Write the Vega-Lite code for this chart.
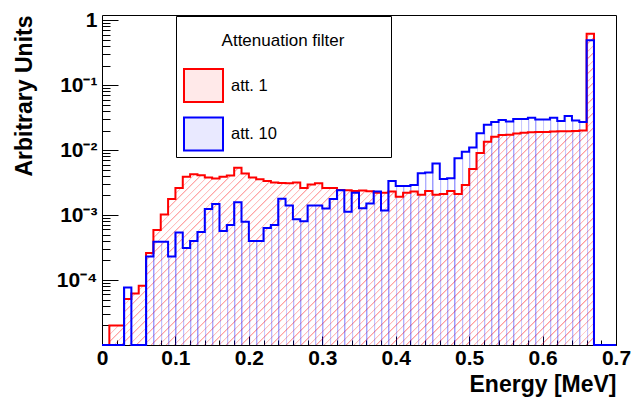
{
  "$schema": "https://vega.github.io/schema/vega-lite/v6.json",
  "width": 514,
  "height": 330,
  "autosize": {"type": "none"},
  "padding": {"left": 102, "top": 15, "right": 18, "bottom": 56},
  "background": "white",
  "config": {
    "font": "Liberation Sans",
    "view": {"stroke": "black", "strokeWidth": 1},
    "axis": {"grid": false, "domain": false, "tickColor": "black", "labelColor": "black", "titleColor": "black", "zindex": 1}
  },
  "data": {"values": [
    {"E":0.00,"v":1e-5,"s":"att. 1"},{"E":0.01,"v":2.0e-5,"s":"att. 1"},{"E":0.02,"v":2.0e-5,"s":"att. 1"},{"E":0.03,"v":5.1e-5,"s":"att. 1"},{"E":0.04,"v":6.2e-5,"s":"att. 1"},
    {"E":0.05,"v":8.2e-5,"s":"att. 1"},{"E":0.06,"v":2.6e-4,"s":"att. 1"},{"E":0.07,"v":5.9e-4,"s":"att. 1"},{"E":0.08,"v":1.02e-3,"s":"att. 1"},{"E":0.09,"v":1.77e-3,"s":"att. 1"},
    {"E":0.10,"v":2.6e-3,"s":"att. 1"},{"E":0.11,"v":3.9e-3,"s":"att. 1"},{"E":0.12,"v":4.25e-3,"s":"att. 1"},{"E":0.13,"v":4.1e-3,"s":"att. 1"},{"E":0.14,"v":3.8e-3,"s":"att. 1"},
    {"E":0.15,"v":3.65e-3,"s":"att. 1"},{"E":0.16,"v":3.9e-3,"s":"att. 1"},{"E":0.17,"v":4.05e-3,"s":"att. 1"},{"E":0.18,"v":5.35e-3,"s":"att. 1"},{"E":0.19,"v":4.35e-3,"s":"att. 1"},
    {"E":0.20,"v":3.8e-3,"s":"att. 1"},{"E":0.21,"v":3.55e-3,"s":"att. 1"},{"E":0.22,"v":3.35e-3,"s":"att. 1"},{"E":0.23,"v":3.16e-3,"s":"att. 1"},{"E":0.24,"v":3.12e-3,"s":"att. 1"},
    {"E":0.25,"v":3.1e-3,"s":"att. 1"},{"E":0.26,"v":3.16e-3,"s":"att. 1"},{"E":0.27,"v":2.6e-3,"s":"att. 1"},{"E":0.28,"v":2.95e-3,"s":"att. 1"},{"E":0.29,"v":3.1e-3,"s":"att. 1"},
    {"E":0.30,"v":2.6e-3,"s":"att. 1"},{"E":0.31,"v":2.6e-3,"s":"att. 1"},{"E":0.32,"v":2.43e-3,"s":"att. 1"},{"E":0.33,"v":2.4e-3,"s":"att. 1"},{"E":0.34,"v":2.35e-3,"s":"att. 1"},
    {"E":0.35,"v":2.38e-3,"s":"att. 1"},{"E":0.36,"v":2.33e-3,"s":"att. 1"},{"E":0.37,"v":2.2e-3,"s":"att. 1"},{"E":0.38,"v":2.2e-3,"s":"att. 1"},{"E":0.39,"v":2.3e-3,"s":"att. 1"},
    {"E":0.40,"v":1.92e-3,"s":"att. 1"},{"E":0.41,"v":2.2e-3,"s":"att. 1"},{"E":0.42,"v":2.3e-3,"s":"att. 1"},{"E":0.43,"v":2.05e-3,"s":"att. 1"},{"E":0.44,"v":2.35e-3,"s":"att. 1"},
    {"E":0.45,"v":2.05e-3,"s":"att. 1"},{"E":0.46,"v":2.1e-3,"s":"att. 1"},{"E":0.47,"v":2.35e-3,"s":"att. 1"},{"E":0.48,"v":2.1e-3,"s":"att. 1"},{"E":0.49,"v":2.9e-3,"s":"att. 1"},
    {"E":0.50,"v":5.1e-3,"s":"att. 1"},{"E":0.51,"v":9.0e-3,"s":"att. 1"},{"E":0.52,"v":1.34e-2,"s":"att. 1"},{"E":0.53,"v":1.6e-2,"s":"att. 1"},{"E":0.54,"v":1.7e-2,"s":"att. 1"},
    {"E":0.55,"v":1.72e-2,"s":"att. 1"},{"E":0.56,"v":1.8e-2,"s":"att. 1"},{"E":0.57,"v":1.85e-2,"s":"att. 1"},{"E":0.58,"v":1.88e-2,"s":"att. 1"},{"E":0.59,"v":1.9e-2,"s":"att. 1"},
    {"E":0.60,"v":1.9e-2,"s":"att. 1"},{"E":0.61,"v":1.93e-2,"s":"att. 1"},{"E":0.62,"v":1.95e-2,"s":"att. 1"},{"E":0.63,"v":1.95e-2,"s":"att. 1"},{"E":0.64,"v":1.96e-2,"s":"att. 1"},
    {"E":0.65,"v":2.0e-2,"s":"att. 1"},{"E":0.66,"v":0.62,"s":"att. 1"},{"E":0.67,"v":1e-5,"s":"att. 1"},{"E":0.68,"v":1e-5,"s":"att. 1"},{"E":0.69,"v":1e-5,"s":"att. 1"},
    {"E":0.70,"v":1e-5,"s":"att. 1"},
    {"E":0.00,"v":1e-5,"s":"att. 10"},{"E":0.01,"v":1e-5,"s":"att. 10"},{"E":0.02,"v":1e-5,"s":"att. 10"},{"E":0.03,"v":7.7e-5,"s":"att. 10"},{"E":0.04,"v":1e-5,"s":"att. 10"},
    {"E":0.05,"v":1e-5,"s":"att. 10"},{"E":0.06,"v":2.3e-4,"s":"att. 10"},{"E":0.07,"v":3.9e-4,"s":"att. 10"},{"E":0.08,"v":3.9e-4,"s":"att. 10"},{"E":0.09,"v":2.3e-4,"s":"att. 10"},
    {"E":0.10,"v":5.4e-4,"s":"att. 10"},{"E":0.11,"v":3.1e-4,"s":"att. 10"},{"E":0.12,"v":4.0e-4,"s":"att. 10"},{"E":0.13,"v":5.5e-4,"s":"att. 10"},{"E":0.14,"v":1.24e-3,"s":"att. 10"},
    {"E":0.15,"v":1.48e-3,"s":"att. 10"},{"E":0.16,"v":5.7e-4,"s":"att. 10"},{"E":0.17,"v":7.0e-4,"s":"att. 10"},{"E":0.18,"v":1.57e-3,"s":"att. 10"},{"E":0.19,"v":7.9e-4,"s":"att. 10"},
    {"E":0.20,"v":4.0e-4,"s":"att. 10"},{"E":0.21,"v":4.0e-4,"s":"att. 10"},{"E":0.22,"v":6.3e-4,"s":"att. 10"},{"E":0.23,"v":7.0e-4,"s":"att. 10"},{"E":0.24,"v":1.78e-3,"s":"att. 10"},
    {"E":0.25,"v":1.4e-3,"s":"att. 10"},{"E":0.26,"v":8.6e-4,"s":"att. 10"},{"E":0.27,"v":8.0e-4,"s":"att. 10"},{"E":0.28,"v":1.4e-3,"s":"att. 10"},{"E":0.29,"v":1.4e-3,"s":"att. 10"},
    {"E":0.30,"v":1.26e-3,"s":"att. 10"},{"E":0.31,"v":1.77e-3,"s":"att. 10"},{"E":0.32,"v":2.4e-3,"s":"att. 10"},{"E":0.33,"v":1.12e-3,"s":"att. 10"},{"E":0.34,"v":2.2e-3,"s":"att. 10"},
    {"E":0.35,"v":1.27e-3,"s":"att. 10"},{"E":0.36,"v":1.5e-3,"s":"att. 10"},{"E":0.37,"v":2.3e-3,"s":"att. 10"},{"E":0.38,"v":1.18e-3,"s":"att. 10"},{"E":0.39,"v":3.35e-3,"s":"att. 10"},
    {"E":0.40,"v":2.8e-3,"s":"att. 10"},{"E":0.41,"v":2.8e-3,"s":"att. 10"},{"E":0.42,"v":2.9e-3,"s":"att. 10"},{"E":0.43,"v":4.4e-3,"s":"att. 10"},{"E":0.44,"v":4.5e-3,"s":"att. 10"},
    {"E":0.45,"v":6.2e-3,"s":"att. 10"},{"E":0.46,"v":3.6e-3,"s":"att. 10"},{"E":0.47,"v":3.7e-3,"s":"att. 10"},{"E":0.48,"v":7.5e-3,"s":"att. 10"},{"E":0.49,"v":9.4e-3,"s":"att. 10"},
    {"E":0.50,"v":1.1e-2,"s":"att. 10"},{"E":0.51,"v":1.82e-2,"s":"att. 10"},{"E":0.52,"v":2.45e-2,"s":"att. 10"},{"E":0.53,"v":2.7e-2,"s":"att. 10"},{"E":0.54,"v":2.9e-2,"s":"att. 10"},
    {"E":0.55,"v":2.75e-2,"s":"att. 10"},{"E":0.56,"v":3.0e-2,"s":"att. 10"},{"E":0.57,"v":3.0e-2,"s":"att. 10"},{"E":0.58,"v":3.15e-2,"s":"att. 10"},{"E":0.59,"v":2.95e-2,"s":"att. 10"},
    {"E":0.60,"v":2.95e-2,"s":"att. 10"},{"E":0.61,"v":3.15e-2,"s":"att. 10"},{"E":0.62,"v":2.8e-2,"s":"att. 10"},{"E":0.63,"v":3.35e-2,"s":"att. 10"},{"E":0.64,"v":2.85e-2,"s":"att. 10"},
    {"E":0.65,"v":2.7e-2,"s":"att. 10"},{"E":0.66,"v":0.49,"s":"att. 10"},{"E":0.67,"v":1e-5,"s":"att. 10"},{"E":0.68,"v":1e-5,"s":"att. 10"},{"E":0.69,"v":1e-5,"s":"att. 10"},
    {"E":0.70,"v":1e-5,"s":"att. 10"}
  ]},
  "resolve": {"axis": {"x": "independent", "y": "independent"}},
  "layer": [
    {
      "mark": {"type": "area", "interpolate": "step-after"},
      "encoding": {
        "x": {"field": "E", "type": "quantitative",
          "scale": {"domain": [0, 0.7], "nice": false, "zero": false},
          "axis": {"orient": "bottom", "values": [0, 0.1, 0.2, 0.3, 0.4, 0.5, 0.6, 0.7], "format": ".1~f",
            "tickSize": -9, "labelPadding": 11, "labelFont": "Liberation Sans", "labelFontSize": 21, "labelFontWeight": "bold",
            "labelFlush": false, "labelOverlap": false,
            "title": "Energy [MeV]", "titleFont": "Liberation Sans", "titleFontSize": 23, "titleFontWeight": "bold",
            "titleAnchor": "end", "titlePadding": 5}},
        "y": {"field": "v", "type": "quantitative", "stack": null,
          "scale": {"type": "log", "domain": [1e-5, 1.2], "nice": false},
          "axis": {"orient": "left", "values": [0.0001, 0.001, 0.01, 0.1, 1],
            "labelExpr": "datum.value >= 0.5 ? '1' : datum.value >= 0.05 ? '10⁻¹' : datum.value >= 0.005 ? '10⁻²' : datum.value >= 0.0005 ? '10⁻³' : '10⁻⁴'",
            "tickSize": -16, "labelPadding": 21, "labelFont": "Liberation Sans", "labelFontSize": 21, "labelFontWeight": "bold",
            "labelFlush": false, "labelOverlap": false,
            "title": "Arbitrary Units", "titleFont": "Liberation Sans", "titleFontSize": 23, "titleFontWeight": "bold",
            "titleAnchor": "end", "titlePadding": 20}},
        "fill": {"field": "s", "type": "nominal",
          "scale": {"domain": ["att. 1", "att. 10"], "range": ["rgba(255,0,0,0.085)", "rgba(0,0,255,0.085)"]},
          "condition": [
            {"test": "datum.s === 'att. 1'", "value": {"gradient": "linear", "x1": 0, "y1": 0, "x2": 1.1747, "y2": 0.7116, "stops": [
{"offset":0,"color":"#f000"},{"offset":0,"color":"#f006"},{"offset":0.0024,"color":"#f000"},
{"offset":0.0091,"color":"#f000"},{"offset":0.0091,"color":"#f006"},{"offset":0.0115,"color":"#f000"},
{"offset":0.0182,"color":"#f000"},{"offset":0.0182,"color":"#f006"},{"offset":0.0206,"color":"#f000"},
{"offset":0.0273,"color":"#f000"},{"offset":0.0273,"color":"#f006"},{"offset":0.0297,"color":"#f000"},
{"offset":0.0364,"color":"#f000"},{"offset":0.0364,"color":"#f006"},{"offset":0.0388,"color":"#f000"},
{"offset":0.0455,"color":"#f000"},{"offset":0.0455,"color":"#f006"},{"offset":0.0479,"color":"#f000"},
{"offset":0.0545,"color":"#f000"},{"offset":0.0545,"color":"#f006"},{"offset":0.0569,"color":"#f000"},
{"offset":0.0636,"color":"#f000"},{"offset":0.0636,"color":"#f006"},{"offset":0.0660,"color":"#f000"},
{"offset":0.0727,"color":"#f000"},{"offset":0.0727,"color":"#f006"},{"offset":0.0751,"color":"#f000"},
{"offset":0.0818,"color":"#f000"},{"offset":0.0818,"color":"#f006"},{"offset":0.0842,"color":"#f000"},
{"offset":0.0909,"color":"#f000"},{"offset":0.0909,"color":"#f006"},{"offset":0.0933,"color":"#f000"},
{"offset":0.1000,"color":"#f000"},{"offset":0.1000,"color":"#f006"},{"offset":0.1024,"color":"#f000"},
{"offset":0.1091,"color":"#f000"},{"offset":0.1091,"color":"#f006"},{"offset":0.1115,"color":"#f000"},
{"offset":0.1182,"color":"#f000"},{"offset":0.1182,"color":"#f006"},{"offset":0.1206,"color":"#f000"},
{"offset":0.1273,"color":"#f000"},{"offset":0.1273,"color":"#f006"},{"offset":0.1297,"color":"#f000"},
{"offset":0.1364,"color":"#f000"},{"offset":0.1364,"color":"#f006"},{"offset":0.1388,"color":"#f000"},
{"offset":0.1455,"color":"#f000"},{"offset":0.1455,"color":"#f006"},{"offset":0.1479,"color":"#f000"},
{"offset":0.1545,"color":"#f000"},{"offset":0.1545,"color":"#f006"},{"offset":0.1569,"color":"#f000"},
{"offset":0.1636,"color":"#f000"},{"offset":0.1636,"color":"#f006"},{"offset":0.1660,"color":"#f000"},
{"offset":0.1727,"color":"#f000"},{"offset":0.1727,"color":"#f006"},{"offset":0.1751,"color":"#f000"},
{"offset":0.1818,"color":"#f000"},{"offset":0.1818,"color":"#f006"},{"offset":0.1842,"color":"#f000"},
{"offset":0.1909,"color":"#f000"},{"offset":0.1909,"color":"#f006"},{"offset":0.1933,"color":"#f000"},
{"offset":0.2000,"color":"#f000"},{"offset":0.2000,"color":"#f006"},{"offset":0.2024,"color":"#f000"},
{"offset":0.2091,"color":"#f000"},{"offset":0.2091,"color":"#f006"},{"offset":0.2115,"color":"#f000"},
{"offset":0.2182,"color":"#f000"},{"offset":0.2182,"color":"#f006"},{"offset":0.2206,"color":"#f000"},
{"offset":0.2273,"color":"#f000"},{"offset":0.2273,"color":"#f006"},{"offset":0.2297,"color":"#f000"},
{"offset":0.2364,"color":"#f000"},{"offset":0.2364,"color":"#f006"},{"offset":0.2388,"color":"#f000"},
{"offset":0.2455,"color":"#f000"},{"offset":0.2455,"color":"#f006"},{"offset":0.2479,"color":"#f000"},
{"offset":0.2545,"color":"#f000"},{"offset":0.2545,"color":"#f006"},{"offset":0.2569,"color":"#f000"},
{"offset":0.2636,"color":"#f000"},{"offset":0.2636,"color":"#f006"},{"offset":0.2660,"color":"#f000"},
{"offset":0.2727,"color":"#f000"},{"offset":0.2727,"color":"#f006"},{"offset":0.2751,"color":"#f000"},
{"offset":0.2818,"color":"#f000"},{"offset":0.2818,"color":"#f006"},{"offset":0.2842,"color":"#f000"},
{"offset":0.2909,"color":"#f000"},{"offset":0.2909,"color":"#f006"},{"offset":0.2933,"color":"#f000"},
{"offset":0.3000,"color":"#f000"},{"offset":0.3000,"color":"#f006"},{"offset":0.3024,"color":"#f000"},
{"offset":0.3091,"color":"#f000"},{"offset":0.3091,"color":"#f006"},{"offset":0.3115,"color":"#f000"},
{"offset":0.3182,"color":"#f000"},{"offset":0.3182,"color":"#f006"},{"offset":0.3206,"color":"#f000"},
{"offset":0.3273,"color":"#f000"},{"offset":0.3273,"color":"#f006"},{"offset":0.3297,"color":"#f000"},
{"offset":0.3364,"color":"#f000"},{"offset":0.3364,"color":"#f006"},{"offset":0.3388,"color":"#f000"},
{"offset":0.3455,"color":"#f000"},{"offset":0.3455,"color":"#f006"},{"offset":0.3479,"color":"#f000"},
{"offset":0.3545,"color":"#f000"},{"offset":0.3545,"color":"#f006"},{"offset":0.3569,"color":"#f000"},
{"offset":0.3636,"color":"#f000"},{"offset":0.3636,"color":"#f006"},{"offset":0.3660,"color":"#f000"},
{"offset":0.3727,"color":"#f000"},{"offset":0.3727,"color":"#f006"},{"offset":0.3751,"color":"#f000"},
{"offset":0.3818,"color":"#f000"},{"offset":0.3818,"color":"#f006"},{"offset":0.3842,"color":"#f000"},
{"offset":0.3909,"color":"#f000"},{"offset":0.3909,"color":"#f006"},{"offset":0.3933,"color":"#f000"},
{"offset":0.4000,"color":"#f000"},{"offset":0.4000,"color":"#f006"},{"offset":0.4024,"color":"#f000"},
{"offset":0.4091,"color":"#f000"},{"offset":0.4091,"color":"#f006"},{"offset":0.4115,"color":"#f000"},
{"offset":0.4182,"color":"#f000"},{"offset":0.4182,"color":"#f006"},{"offset":0.4206,"color":"#f000"},
{"offset":0.4273,"color":"#f000"},{"offset":0.4273,"color":"#f006"},{"offset":0.4297,"color":"#f000"},
{"offset":0.4364,"color":"#f000"},{"offset":0.4364,"color":"#f006"},{"offset":0.4388,"color":"#f000"},
{"offset":0.4455,"color":"#f000"},{"offset":0.4455,"color":"#f006"},{"offset":0.4479,"color":"#f000"},
{"offset":0.4545,"color":"#f000"},{"offset":0.4545,"color":"#f006"},{"offset":0.4569,"color":"#f000"},
{"offset":0.4636,"color":"#f000"},{"offset":0.4636,"color":"#f006"},{"offset":0.4660,"color":"#f000"},
{"offset":0.4727,"color":"#f000"},{"offset":0.4727,"color":"#f006"},{"offset":0.4751,"color":"#f000"},
{"offset":0.4818,"color":"#f000"},{"offset":0.4818,"color":"#f006"},{"offset":0.4842,"color":"#f000"},
{"offset":0.4909,"color":"#f000"},{"offset":0.4909,"color":"#f006"},{"offset":0.4933,"color":"#f000"},
{"offset":0.5000,"color":"#f000"},{"offset":0.5000,"color":"#f006"},{"offset":0.5024,"color":"#f000"},
{"offset":0.5091,"color":"#f000"},{"offset":0.5091,"color":"#f006"},{"offset":0.5115,"color":"#f000"},
{"offset":0.5182,"color":"#f000"},{"offset":0.5182,"color":"#f006"},{"offset":0.5206,"color":"#f000"},
{"offset":0.5273,"color":"#f000"},{"offset":0.5273,"color":"#f006"},{"offset":0.5297,"color":"#f000"},
{"offset":0.5364,"color":"#f000"},{"offset":0.5364,"color":"#f006"},{"offset":0.5388,"color":"#f000"},
{"offset":0.5455,"color":"#f000"},{"offset":0.5455,"color":"#f006"},{"offset":0.5479,"color":"#f000"},
{"offset":0.5545,"color":"#f000"},{"offset":0.5545,"color":"#f006"},{"offset":0.5569,"color":"#f000"},
{"offset":0.5636,"color":"#f000"},{"offset":0.5636,"color":"#f006"},{"offset":0.5660,"color":"#f000"},
{"offset":0.5727,"color":"#f000"},{"offset":0.5727,"color":"#f006"},{"offset":0.5751,"color":"#f000"},
{"offset":0.5818,"color":"#f000"},{"offset":0.5818,"color":"#f006"},{"offset":0.5842,"color":"#f000"},
{"offset":0.5909,"color":"#f000"},{"offset":0.5909,"color":"#f006"},{"offset":0.5933,"color":"#f000"},
{"offset":0.6000,"color":"#f000"},{"offset":0.6000,"color":"#f006"},{"offset":0.6024,"color":"#f000"},
{"offset":0.6091,"color":"#f000"},{"offset":0.6091,"color":"#f006"},{"offset":0.6115,"color":"#f000"},
{"offset":0.6182,"color":"#f000"},{"offset":0.6182,"color":"#f006"},{"offset":0.6206,"color":"#f000"},
{"offset":0.6273,"color":"#f000"},{"offset":0.6273,"color":"#f006"},{"offset":0.6297,"color":"#f000"},
{"offset":0.6364,"color":"#f000"},{"offset":0.6364,"color":"#f006"},{"offset":0.6388,"color":"#f000"},
{"offset":0.6455,"color":"#f000"},{"offset":0.6455,"color":"#f006"},{"offset":0.6479,"color":"#f000"},
{"offset":0.6545,"color":"#f000"},{"offset":0.6545,"color":"#f006"},{"offset":0.6569,"color":"#f000"},
{"offset":0.6636,"color":"#f000"},{"offset":0.6636,"color":"#f006"},{"offset":0.6660,"color":"#f000"},
{"offset":0.6727,"color":"#f000"},{"offset":0.6727,"color":"#f006"},{"offset":0.6751,"color":"#f000"},
{"offset":0.6818,"color":"#f000"},{"offset":0.6818,"color":"#f006"},{"offset":0.6842,"color":"#f000"},
{"offset":0.6909,"color":"#f000"},{"offset":0.6909,"color":"#f006"},{"offset":0.6933,"color":"#f000"},
{"offset":0.7000,"color":"#f000"},{"offset":0.7000,"color":"#f006"},{"offset":0.7024,"color":"#f000"},
{"offset":0.7091,"color":"#f000"},{"offset":0.7091,"color":"#f006"},{"offset":0.7115,"color":"#f000"},
{"offset":0.7182,"color":"#f000"},{"offset":0.7182,"color":"#f006"},{"offset":0.7206,"color":"#f000"},
{"offset":0.7273,"color":"#f000"},{"offset":0.7273,"color":"#f006"},{"offset":0.7297,"color":"#f000"},
{"offset":0.7364,"color":"#f000"},{"offset":0.7364,"color":"#f006"},{"offset":0.7388,"color":"#f000"},
{"offset":0.7455,"color":"#f000"},{"offset":0.7455,"color":"#f006"},{"offset":0.7479,"color":"#f000"},
{"offset":0.7545,"color":"#f000"},{"offset":0.7545,"color":"#f006"},{"offset":0.7569,"color":"#f000"},
{"offset":0.7636,"color":"#f000"},{"offset":0.7636,"color":"#f006"},{"offset":0.7660,"color":"#f000"},
{"offset":0.7727,"color":"#f000"},{"offset":0.7727,"color":"#f006"},{"offset":0.7751,"color":"#f000"},
{"offset":0.7818,"color":"#f000"},{"offset":0.7818,"color":"#f006"},{"offset":0.7842,"color":"#f000"},
{"offset":0.7909,"color":"#f000"},{"offset":0.7909,"color":"#f006"},{"offset":0.7933,"color":"#f000"},
{"offset":0.8000,"color":"#f000"},{"offset":0.8000,"color":"#f006"},{"offset":0.8024,"color":"#f000"},
{"offset":0.8091,"color":"#f000"},{"offset":0.8091,"color":"#f006"},{"offset":0.8115,"color":"#f000"},
{"offset":0.8182,"color":"#f000"},{"offset":0.8182,"color":"#f006"},{"offset":0.8206,"color":"#f000"},
{"offset":0.8273,"color":"#f000"},{"offset":0.8273,"color":"#f006"},{"offset":0.8297,"color":"#f000"},
{"offset":0.8364,"color":"#f000"},{"offset":0.8364,"color":"#f006"},{"offset":0.8388,"color":"#f000"},
{"offset":0.8455,"color":"#f000"},{"offset":0.8455,"color":"#f006"},{"offset":0.8479,"color":"#f000"},
{"offset":0.8545,"color":"#f000"},{"offset":0.8545,"color":"#f006"},{"offset":0.8569,"color":"#f000"},
{"offset":0.8636,"color":"#f000"},{"offset":0.8636,"color":"#f006"},{"offset":0.8660,"color":"#f000"},
{"offset":0.8727,"color":"#f000"},{"offset":0.8727,"color":"#f006"},{"offset":0.8751,"color":"#f000"},
{"offset":0.8818,"color":"#f000"},{"offset":0.8818,"color":"#f006"},{"offset":0.8842,"color":"#f000"},
{"offset":0.8909,"color":"#f000"},{"offset":0.8909,"color":"#f006"},{"offset":0.8933,"color":"#f000"},
{"offset":0.9000,"color":"#f000"},{"offset":0.9000,"color":"#f006"},{"offset":0.9024,"color":"#f000"},
{"offset":0.9091,"color":"#f000"},{"offset":0.9091,"color":"#f006"},{"offset":0.9115,"color":"#f000"},
{"offset":0.9182,"color":"#f000"},{"offset":0.9182,"color":"#f006"},{"offset":0.9206,"color":"#f000"},
{"offset":0.9273,"color":"#f000"},{"offset":0.9273,"color":"#f006"},{"offset":0.9297,"color":"#f000"},
{"offset":0.9364,"color":"#f000"},{"offset":0.9364,"color":"#f006"},{"offset":0.9388,"color":"#f000"},
{"offset":0.9455,"color":"#f000"},{"offset":0.9455,"color":"#f006"},{"offset":0.9479,"color":"#f000"},
{"offset":0.9545,"color":"#f000"},{"offset":0.9545,"color":"#f006"},{"offset":0.9569,"color":"#f000"},
{"offset":0.9636,"color":"#f000"},{"offset":0.9636,"color":"#f006"},{"offset":0.9660,"color":"#f000"},
{"offset":0.9727,"color":"#f000"},{"offset":0.9727,"color":"#f006"},{"offset":0.9751,"color":"#f000"},
{"offset":0.9818,"color":"#f000"},{"offset":0.9818,"color":"#f006"},{"offset":0.9842,"color":"#f000"},
{"offset":0.9909,"color":"#f000"},{"offset":0.9909,"color":"#f006"},{"offset":0.9933,"color":"#f000"}
            ]}},
            {"test": "datum.s === 'att. 10'", "value": {"gradient": "linear", "x1": 0, "y1": 0, "x2": 1, "y2": 0, "stops": [
{"offset":0,"color":"#00f0"},{"offset":0,"color":"#00f6"},{"offset":0.0039,"color":"#00f0"},
{"offset":0.0143,"color":"#00f0"},{"offset":0.0143,"color":"#00f6"},{"offset":0.0182,"color":"#00f0"},
{"offset":0.0286,"color":"#00f0"},{"offset":0.0286,"color":"#00f6"},{"offset":0.0325,"color":"#00f0"},
{"offset":0.0429,"color":"#00f0"},{"offset":0.0429,"color":"#00f6"},{"offset":0.0468,"color":"#00f0"},
{"offset":0.0571,"color":"#00f0"},{"offset":0.0571,"color":"#00f6"},{"offset":0.0610,"color":"#00f0"},
{"offset":0.0714,"color":"#00f0"},{"offset":0.0714,"color":"#00f6"},{"offset":0.0753,"color":"#00f0"},
{"offset":0.0857,"color":"#00f0"},{"offset":0.0857,"color":"#00f6"},{"offset":0.0896,"color":"#00f0"},
{"offset":0.1000,"color":"#00f0"},{"offset":0.1000,"color":"#00f6"},{"offset":0.1039,"color":"#00f0"},
{"offset":0.1143,"color":"#00f0"},{"offset":0.1143,"color":"#00f6"},{"offset":0.1182,"color":"#00f0"},
{"offset":0.1286,"color":"#00f0"},{"offset":0.1286,"color":"#00f6"},{"offset":0.1325,"color":"#00f0"},
{"offset":0.1429,"color":"#00f0"},{"offset":0.1429,"color":"#00f6"},{"offset":0.1468,"color":"#00f0"},
{"offset":0.1571,"color":"#00f0"},{"offset":0.1571,"color":"#00f6"},{"offset":0.1610,"color":"#00f0"},
{"offset":0.1714,"color":"#00f0"},{"offset":0.1714,"color":"#00f6"},{"offset":0.1753,"color":"#00f0"},
{"offset":0.1857,"color":"#00f0"},{"offset":0.1857,"color":"#00f6"},{"offset":0.1896,"color":"#00f0"},
{"offset":0.2000,"color":"#00f0"},{"offset":0.2000,"color":"#00f6"},{"offset":0.2039,"color":"#00f0"},
{"offset":0.2143,"color":"#00f0"},{"offset":0.2143,"color":"#00f6"},{"offset":0.2182,"color":"#00f0"},
{"offset":0.2286,"color":"#00f0"},{"offset":0.2286,"color":"#00f6"},{"offset":0.2325,"color":"#00f0"},
{"offset":0.2429,"color":"#00f0"},{"offset":0.2429,"color":"#00f6"},{"offset":0.2468,"color":"#00f0"},
{"offset":0.2571,"color":"#00f0"},{"offset":0.2571,"color":"#00f6"},{"offset":0.2610,"color":"#00f0"},
{"offset":0.2714,"color":"#00f0"},{"offset":0.2714,"color":"#00f6"},{"offset":0.2753,"color":"#00f0"},
{"offset":0.2857,"color":"#00f0"},{"offset":0.2857,"color":"#00f6"},{"offset":0.2896,"color":"#00f0"},
{"offset":0.3000,"color":"#00f0"},{"offset":0.3000,"color":"#00f6"},{"offset":0.3039,"color":"#00f0"},
{"offset":0.3143,"color":"#00f0"},{"offset":0.3143,"color":"#00f6"},{"offset":0.3182,"color":"#00f0"},
{"offset":0.3286,"color":"#00f0"},{"offset":0.3286,"color":"#00f6"},{"offset":0.3325,"color":"#00f0"},
{"offset":0.3429,"color":"#00f0"},{"offset":0.3429,"color":"#00f6"},{"offset":0.3468,"color":"#00f0"},
{"offset":0.3571,"color":"#00f0"},{"offset":0.3571,"color":"#00f6"},{"offset":0.3610,"color":"#00f0"},
{"offset":0.3714,"color":"#00f0"},{"offset":0.3714,"color":"#00f6"},{"offset":0.3753,"color":"#00f0"},
{"offset":0.3857,"color":"#00f0"},{"offset":0.3857,"color":"#00f6"},{"offset":0.3896,"color":"#00f0"},
{"offset":0.4000,"color":"#00f0"},{"offset":0.4000,"color":"#00f6"},{"offset":0.4039,"color":"#00f0"},
{"offset":0.4143,"color":"#00f0"},{"offset":0.4143,"color":"#00f6"},{"offset":0.4182,"color":"#00f0"},
{"offset":0.4286,"color":"#00f0"},{"offset":0.4286,"color":"#00f6"},{"offset":0.4325,"color":"#00f0"},
{"offset":0.4429,"color":"#00f0"},{"offset":0.4429,"color":"#00f6"},{"offset":0.4468,"color":"#00f0"},
{"offset":0.4571,"color":"#00f0"},{"offset":0.4571,"color":"#00f6"},{"offset":0.4610,"color":"#00f0"},
{"offset":0.4714,"color":"#00f0"},{"offset":0.4714,"color":"#00f6"},{"offset":0.4753,"color":"#00f0"},
{"offset":0.4857,"color":"#00f0"},{"offset":0.4857,"color":"#00f6"},{"offset":0.4896,"color":"#00f0"},
{"offset":0.5000,"color":"#00f0"},{"offset":0.5000,"color":"#00f6"},{"offset":0.5039,"color":"#00f0"},
{"offset":0.5143,"color":"#00f0"},{"offset":0.5143,"color":"#00f6"},{"offset":0.5182,"color":"#00f0"},
{"offset":0.5286,"color":"#00f0"},{"offset":0.5286,"color":"#00f6"},{"offset":0.5325,"color":"#00f0"},
{"offset":0.5429,"color":"#00f0"},{"offset":0.5429,"color":"#00f6"},{"offset":0.5468,"color":"#00f0"},
{"offset":0.5571,"color":"#00f0"},{"offset":0.5571,"color":"#00f6"},{"offset":0.5610,"color":"#00f0"},
{"offset":0.5714,"color":"#00f0"},{"offset":0.5714,"color":"#00f6"},{"offset":0.5753,"color":"#00f0"},
{"offset":0.5857,"color":"#00f0"},{"offset":0.5857,"color":"#00f6"},{"offset":0.5896,"color":"#00f0"},
{"offset":0.6000,"color":"#00f0"},{"offset":0.6000,"color":"#00f6"},{"offset":0.6039,"color":"#00f0"},
{"offset":0.6143,"color":"#00f0"},{"offset":0.6143,"color":"#00f6"},{"offset":0.6182,"color":"#00f0"},
{"offset":0.6286,"color":"#00f0"},{"offset":0.6286,"color":"#00f6"},{"offset":0.6325,"color":"#00f0"},
{"offset":0.6429,"color":"#00f0"},{"offset":0.6429,"color":"#00f6"},{"offset":0.6468,"color":"#00f0"},
{"offset":0.6571,"color":"#00f0"},{"offset":0.6571,"color":"#00f6"},{"offset":0.6610,"color":"#00f0"},
{"offset":0.6714,"color":"#00f0"},{"offset":0.6714,"color":"#00f6"},{"offset":0.6753,"color":"#00f0"},
{"offset":0.6857,"color":"#00f0"},{"offset":0.6857,"color":"#00f6"},{"offset":0.6896,"color":"#00f0"},
{"offset":0.7000,"color":"#00f0"},{"offset":0.7000,"color":"#00f6"},{"offset":0.7039,"color":"#00f0"},
{"offset":0.7143,"color":"#00f0"},{"offset":0.7143,"color":"#00f6"},{"offset":0.7182,"color":"#00f0"},
{"offset":0.7286,"color":"#00f0"},{"offset":0.7286,"color":"#00f6"},{"offset":0.7325,"color":"#00f0"},
{"offset":0.7429,"color":"#00f0"},{"offset":0.7429,"color":"#00f6"},{"offset":0.7468,"color":"#00f0"},
{"offset":0.7571,"color":"#00f0"},{"offset":0.7571,"color":"#00f6"},{"offset":0.7610,"color":"#00f0"},
{"offset":0.7714,"color":"#00f0"},{"offset":0.7714,"color":"#00f6"},{"offset":0.7753,"color":"#00f0"},
{"offset":0.7857,"color":"#00f0"},{"offset":0.7857,"color":"#00f6"},{"offset":0.7896,"color":"#00f0"},
{"offset":0.8000,"color":"#00f0"},{"offset":0.8000,"color":"#00f6"},{"offset":0.8039,"color":"#00f0"},
{"offset":0.8143,"color":"#00f0"},{"offset":0.8143,"color":"#00f6"},{"offset":0.8182,"color":"#00f0"},
{"offset":0.8286,"color":"#00f0"},{"offset":0.8286,"color":"#00f6"},{"offset":0.8325,"color":"#00f0"},
{"offset":0.8429,"color":"#00f0"},{"offset":0.8429,"color":"#00f6"},{"offset":0.8468,"color":"#00f0"},
{"offset":0.8571,"color":"#00f0"},{"offset":0.8571,"color":"#00f6"},{"offset":0.8610,"color":"#00f0"},
{"offset":0.8714,"color":"#00f0"},{"offset":0.8714,"color":"#00f6"},{"offset":0.8753,"color":"#00f0"},
{"offset":0.8857,"color":"#00f0"},{"offset":0.8857,"color":"#00f6"},{"offset":0.8896,"color":"#00f0"},
{"offset":0.9000,"color":"#00f0"},{"offset":0.9000,"color":"#00f6"},{"offset":0.9039,"color":"#00f0"},
{"offset":0.9143,"color":"#00f0"},{"offset":0.9143,"color":"#00f6"},{"offset":0.9182,"color":"#00f0"},
{"offset":0.9286,"color":"#00f0"},{"offset":0.9286,"color":"#00f6"},{"offset":0.9325,"color":"#00f0"},
{"offset":0.9429,"color":"#00f0"},{"offset":0.9429,"color":"#00f6"},{"offset":0.9468,"color":"#00f0"},
{"offset":0.9571,"color":"#00f0"},{"offset":0.9571,"color":"#00f6"},{"offset":0.9610,"color":"#00f0"},
{"offset":0.9714,"color":"#00f0"},{"offset":0.9714,"color":"#00f6"},{"offset":0.9753,"color":"#00f0"},
{"offset":0.9857,"color":"#00f0"},{"offset":0.9857,"color":"#00f6"},{"offset":0.9896,"color":"#00f0"}
            ]}}
          ],
          "legend": {"orient": "none", "legendX": 74, "legendY": 1,
            "title": "Attenuation filter",
            "titleFont": "Liberation Sans", "titleFontSize": 17, "titleFontWeight": "normal", "titleColor": "black",
            "titleAnchor": "middle", "titleAlign": "center", "titleBaseline": "line-top", "titleLineHeight": 47, "titlePadding": 33,
            "labelFont": "Liberation Sans", "labelFontSize": 16.5, "labelColor": "black", "labelOffset": 10,
            "symbolType": "M-1.182,-1L1.182,-1L1.182,1L-1.182,1ZM10.98,0", "symbolSize": 1089, "symbolStrokeWidth": 2, "symbolOffset": 8,
            "rowPadding": 7.5, "padding": 2, "strokeColor": "black", "fillColor": "white", "cornerRadius": 0}}
      }
    },
    {
      "mark": {"type": "line", "interpolate": "step-after", "strokeWidth": 2},
      "encoding": {
        "x": {"field": "E", "type": "quantitative",
          "axis": {"orient": "bottom", "values": [0.02,0.04,0.06,0.08,0.12,0.14,0.16,0.18,0.22,0.24,0.26,0.28,0.32,0.34,0.36,0.38,0.42,0.44,0.46,0.48,0.52,0.54,0.56,0.58,0.62,0.64,0.66,0.68],
            "tickSize": -5, "labels": false, "title": null}},
        "y": {"field": "v", "type": "quantitative",
          "axis": {"orient": "left", "values": [2e-5,3e-5,4e-5,5e-5,6e-5,7e-5,8e-5,9e-5,2e-4,3e-4,4e-4,5e-4,6e-4,7e-4,8e-4,9e-4,2e-3,3e-3,4e-3,5e-3,6e-3,7e-3,8e-3,9e-3,2e-2,3e-2,4e-2,5e-2,6e-2,7e-2,8e-2,9e-2,0.2,0.3,0.4,0.5,0.6,0.7,0.8,0.9],
            "tickSize": -8, "labels": false, "title": null}},
        "stroke": {"field": "s", "type": "nominal",
          "scale": {"domain": ["att. 1", "att. 10"], "range": ["#ff0000", "#0000ff"]},
          "legend": {"orient": "none", "legendX": 74, "legendY": 1,
            "title": "Attenuation filter",
            "titleFont": "Liberation Sans", "titleFontSize": 17, "titleFontWeight": "normal", "titleColor": "black",
            "titleAnchor": "middle", "titleAlign": "center", "titleBaseline": "line-top", "titleLineHeight": 47, "titlePadding": 33,
            "labelFont": "Liberation Sans", "labelFontSize": 16.5, "labelColor": "black", "labelOffset": 10,
            "symbolType": "M-1.182,-1L1.182,-1L1.182,1L-1.182,1ZM10.98,0", "symbolSize": 1089, "symbolStrokeWidth": 2, "symbolOffset": 8,
            "rowPadding": 7.5, "padding": 2, "strokeColor": "black", "fillColor": "white", "cornerRadius": 0}}
      }
    }
  ]
}
